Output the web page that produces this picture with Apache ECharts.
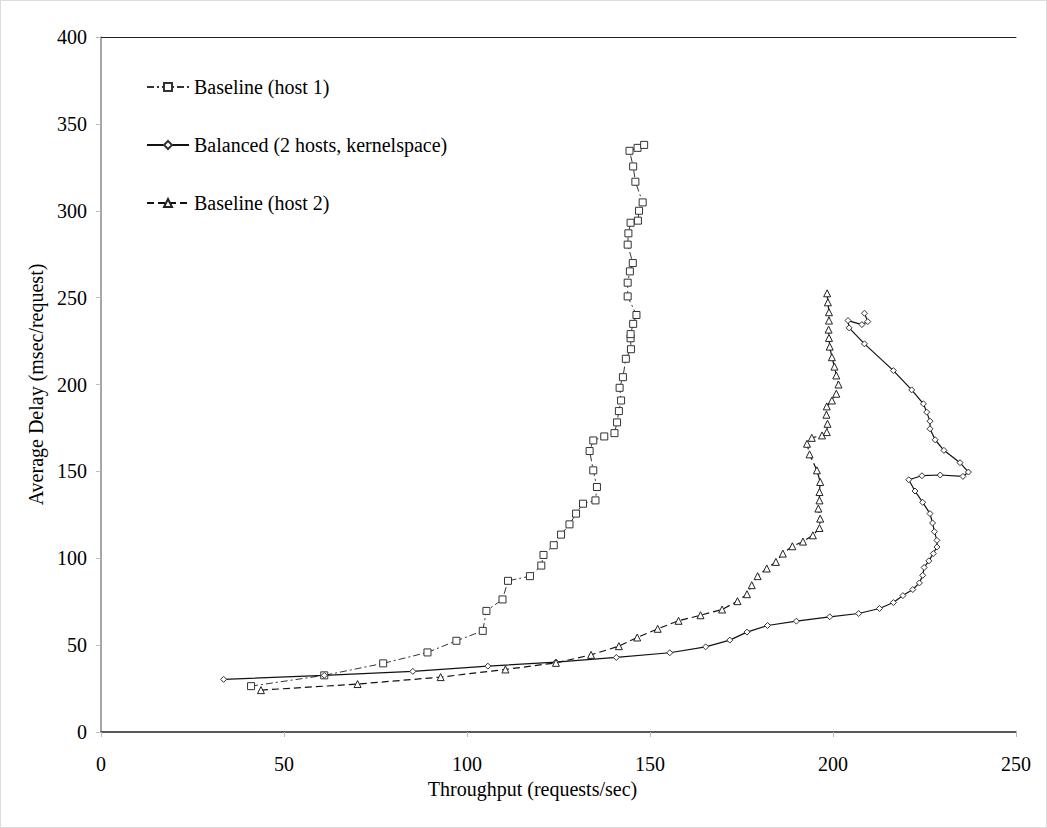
<!DOCTYPE html>
<html>
<head>
<meta charset="utf-8">
<script src="https://cdn.jsdelivr.net/npm/echarts@6/dist/echarts.min.js"></script>
<style>
html,body{margin:0;padding:0;background:#fff;}
#c{width:1047px;height:828px;box-sizing:border-box;border:1px solid #dcdcdc;}
</style>
</head>
<body>
<div id="c"></div>
<script>
const xTicks = [0, 50, 100, 150, 200, 250];
const yTicks = [0, 50, 100, 150, 200, 250, 300, 350, 400];
const seriesNames = ['Baseline (host 1)', 'Balanced (2 hosts, kernelspace)', 'Baseline (host 2)'];

const host1X = [41.0, 61.0, 77.1, 89.2, 97.1, 104.3, 105.3, 109.7, 111.2, 117.2, 120.3, 120.9, 123.7, 125.7, 128.0, 129.8, 131.7, 135.1, 135.5, 134.5, 133.5, 134.5, 137.5, 140.3, 141.0, 141.5, 142.1, 141.7, 142.6, 143.4, 144.8, 144.7, 144.7, 145.4, 146.3, 143.9, 143.9, 144.5, 145.3, 143.9, 144.1, 144.7, 146.7, 147.0, 148.0, 146.0, 145.4, 144.4, 146.6, 148.4];
const host1Y = [26.4, 32.6, 39.5, 45.8, 52.5, 58.2, 69.7, 76.3, 87.0, 89.7, 95.8, 101.9, 107.5, 113.6, 119.5, 125.7, 131.4, 133.3, 141.0, 150.6, 161.7, 167.8, 170.1, 172.0, 178.2, 184.7, 190.8, 198.1, 204.2, 214.8, 220.3, 226.6, 229.0, 234.9, 240.0, 250.7, 258.6, 265.1, 269.9, 280.5, 287.0, 293.1, 294.3, 300.0, 304.8, 316.7, 325.5, 334.5, 336.2, 337.9];

const balX = [33.5, 61.0, 85.2, 105.7, 124.3, 140.8, 155.4, 165.2, 171.8, 176.5, 182.1, 190.0, 199.1, 207.0, 212.7, 216.5, 219.1, 221.8, 223.6, 224.5, 224.9, 226.2, 227.4, 228.4, 228.4, 227.7, 227.2, 226.5, 224.5, 222.4, 220.7, 224.3, 229.3, 235.5, 237.0, 234.7, 230.3, 227.9, 226.5, 226.5, 225.6, 224.7, 221.5, 216.5, 208.6, 204.4, 204.1, 207.9, 209.5, 208.6];
const balY = [30.3, 32.6, 34.9, 37.9, 40.2, 42.9, 45.6, 49.0, 52.9, 57.5, 61.3, 63.8, 66.3, 68.2, 71.1, 74.5, 78.5, 82.0, 85.8, 90.2, 94.7, 98.5, 102.7, 106.5, 110.3, 115.3, 120.3, 125.7, 132.2, 138.7, 145.2, 147.5, 147.9, 147.1, 149.6, 155.0, 162.1, 168.2, 174.5, 178.9, 184.1, 188.9, 196.9, 208.0, 223.4, 232.6, 236.8, 234.5, 236.2, 241.0];

const host2X = [43.7, 70.1, 92.8, 110.5, 124.3, 133.9, 141.5, 146.5, 152.1, 157.8, 163.8, 169.7, 173.9, 176.5, 177.8, 179.4, 181.9, 184.4, 186.3, 188.9, 191.8, 194.5, 196.3, 196.5, 196.0, 196.3, 196.3, 196.5, 195.6, 193.6, 192.9, 194.2, 197.0, 198.3, 198.5, 198.2, 198.3, 199.7, 200.9, 201.5, 200.9, 200.4, 199.7, 199.1, 198.9, 198.8, 198.9, 198.9, 198.6, 198.4];
const host2Y = [24.1, 27.6, 31.6, 36.0, 39.8, 44.4, 49.4, 54.4, 59.4, 64.0, 67.2, 70.5, 75.3, 79.3, 84.5, 89.7, 94.1, 97.9, 102.7, 106.9, 109.6, 113.2, 117.4, 122.8, 128.6, 133.3, 138.1, 143.9, 150.6, 159.8, 165.9, 169.3, 170.7, 172.6, 177.4, 182.6, 187.4, 190.8, 194.7, 200.0, 205.2, 210.3, 215.7, 221.8, 226.8, 231.6, 236.8, 241.6, 247.3, 252.5];

function zip(xs, ys) { return xs.map((x, i) => [x, ys[i]]); }

const FONT = 'Liberation Serif';
const FS = 20;
const chart = echarts.init(document.getElementById('c'), null, {renderer: 'svg'});

const option = {
  backgroundColor: '#ffffff',
  animation: false,
  textStyle: {fontFamily: FONT, color: '#000'},
  grid: {left: 100, top: 36, right: 30, bottom: 95, containLabel: false},
  legend: {
    orient: 'vertical',
    left: 140,
    top: 71,
    itemWidth: 42,
    itemHeight: 10,
    itemGap: 38,
    data: seriesNames,
    textStyle: {fontFamily: FONT, fontSize: FS, color: '#000'}
  },
  xAxis: [{
    type: 'value',
    min: 0, max: 250, interval: 50,
    name: 'Throughput (requests/sec)',
    nameLocation: 'middle',
    nameGap: 45,
    nameTextStyle: {fontFamily: FONT, fontSize: FS, color: '#000', padding: [0, 52, 0, 0]},
    axisLine: {show: true, lineStyle: {color: '#222', width: 1.5}},
    axisTick: {show: true, length: 5, lineStyle: {color: '#bbb'}},
    axisLabel: {fontFamily: FONT, fontSize: FS, color: '#000', margin: 22,
      formatter: v => xTicks.includes(v) ? String(v) : ''},
    splitLine: {show: false}
  }, {
    type: 'value',
    position: 'top',
    min: 0, max: 250, interval: 50,
    axisLine: {show: true, lineStyle: {color: '#222', width: 1}},
    axisTick: {show: false},
    axisLabel: {show: false},
    splitLine: {show: false}
  }],
  yAxis: {
    type: 'value',
    min: 0, max: 400, interval: 50,
    name: 'Average Delay (msec/request)',
    nameLocation: 'middle',
    nameGap: 52,
    nameTextStyle: {fontFamily: FONT, fontSize: FS, color: '#000'},
    axisLine: {show: true, lineStyle: {color: '#888', width: 1.5}},
    axisTick: {show: true, length: 5, lineStyle: {color: '#bbb'}},
    axisLabel: {fontFamily: FONT, fontSize: FS, color: '#000', margin: 14,
      formatter: v => yTicks.includes(v) ? String(v) : ''},
    splitLine: {show: false}
  },
  series: [
    {
      name: seriesNames[0],
      type: 'line',
      xAxisIndex: 0,
      data: zip(host1X, host1Y),
      symbol: 'rect',
      symbolSize: 7,
      showAllSymbol: true,
      lineStyle: {color: '#333', width: 1, type: [7, 3, 2, 3]},
      itemStyle: {color: '#fff', borderColor: '#333', borderWidth: 1},
      color: '#333'
    },
    {
      name: seriesNames[1],
      type: 'line',
      xAxisIndex: 0,
      data: zip(balX, balY),
      symbol: 'diamond',
      symbolSize: 6,
      showAllSymbol: true,
      lineStyle: {color: '#111', width: 1.2, type: 'solid'},
      itemStyle: {color: '#fff', borderColor: '#333', borderWidth: 1},
      color: '#333'
    },
    {
      name: seriesNames[2],
      type: 'line',
      xAxisIndex: 0,
      data: zip(host2X, host2Y),
      symbol: 'triangle',
      symbolSize: 7,
      showAllSymbol: true,
      lineStyle: {color: '#111', width: 1.2, type: [7, 4]},
      itemStyle: {color: '#fff', borderColor: '#222', borderWidth: 1},
      color: '#222'
    }
  ]
};
chart.setOption(option);
</script>
</body>
</html>
